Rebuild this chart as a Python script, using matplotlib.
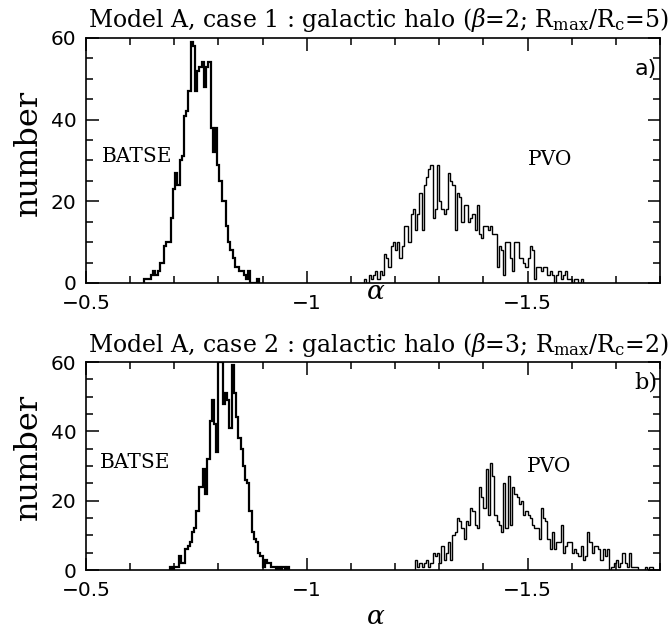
# alpha distributions for model A, two galactic halo cases
# step histograms, BATSE vs PVO

import matplotlib
matplotlib.use('Agg')
import matplotlib.pyplot as plt
import numpy as np
from matplotlib.ticker import MultipleLocator, FuncFormatter

# data =================================================================================================================
bin_width = 0.005

# case 1
case1_batse_start = -0.632
case1_batse = [1, 1, 1, 2, 3, 2, 3, 5, 5, 9, 10, 10, 16, 23, 27, 24, 30, 31, 41, 42, 47, 59, 58, 47, 52, 53,
               54, 48, 53, 54, 38, 32, 38, 29, 25, 20, 20, 14, 10, 8, 6, 4, 4, 3, 3, 2, 1, 3, 0, 0, 0, 1]
case1_pvo_start = -1.130
case1_pvo = [1, 0, 2, 1, 2, 3, 1, 3, 2, 7, 6, 4, 9, 10, 8, 10, 6, 9, 14, 14,
             10, 17, 18, 13, 17, 22, 13, 24, 26, 28, 29, 16, 18, 29, 20, 18, 17, 18, 27, 25,
             24, 13, 22, 21, 15, 19, 19, 15, 16, 17, 13, 19, 12, 11, 14, 14, 13, 14, 12, 12,
             4, 9, 8, 2, 10, 10, 6, 3, 10, 10, 6, 6, 5, 4, 6, 9, 8, 1, 4, 4,
             3, 4, 4, 2, 3, 2, 0, 2, 3, 1, 2, 3, 1, 1, 0, 1, 1, 0, 1, 0]

# case 2
case2_batse_start = -0.690
case2_batse = [1, 0, 1, 1, 4, 2, 2, 6, 7, 8, 11, 12, 17, 24, 24, 29, 22, 32, 43, 49,
               42, 34, 60, 62, 48, 51, 49, 41, 59, 51, 44, 38, 35, 30, 26, 25, 17, 11, 9, 8,
               5, 4, 1, 3, 2, 2, 1, 1, 0, 1, 0, 1, 0, 1]
case2_pvo_start = -1.245
case2_pvo = [3, 1, 2, 1, 2, 3, 1, 2, 5, 4, 5, 2, 7, 3, 5, 8, 3, 10, 11, 15,
             14, 12, 9, 14, 13, 18, 17, 13, 12, 24, 21, 18, 29, 16, 31, 27, 16, 14, 13, 11,
             25, 12, 27, 13, 24, 22, 21, 19, 20, 16, 17, 16, 15, 13, 12, 12, 9, 18, 15, 14,
             9, 6, 11, 6, 8, 8, 13, 5, 7, 8, 8, 5, 6, 5, 4, 7, 3, 4, 11, 8,
             5, 7, 7, 6, 3, 6, 4, 6, 0, 1, 2, 3, 1, 2, 5, 2, 1, 5, 1, 1,
             1, 0, 0, 0, 1, 0, 1, 1, 0]

titles = [r'Model A, case 1 : galactic halo ($\beta$=2; R$_{\rm max}$/R$_{\rm c}$=5)',
          r'Model A, case 2 : galactic halo ($\beta$=3; R$_{\rm max}$/R$_{\rm c}$=2)']
panel_tags = ['a)', 'b)']

plt.rcParams['mathtext.fontset'] = 'dejavuserif'
SERIF = 'DejaVu Serif'
SANS = 'DejaVu Sans'
W, H = 671, 629


def draw_hist(ax, start, counts, lw):
    counts = np.asarray(counts, dtype=float)
    edges = start - bin_width * np.arange(len(counts) + 1)
    ax.stairs(counts[::-1], edges[::-1], baseline=0, color='black', linewidth=lw)


def style_axes(ax):
    ax.set_xlim(-0.5, -1.8)
    ax.set_ylim(0, 60)
    ax.xaxis.set_major_locator(MultipleLocator(0.5))
    ax.xaxis.set_minor_locator(MultipleLocator(0.1))
    ax.yaxis.set_major_locator(MultipleLocator(20))
    ax.yaxis.set_minor_locator(MultipleLocator(5))
    ax.xaxis.set_major_formatter(FuncFormatter(lambda v, p: '{:g}'.format(v).replace('-', '\u2212')))
    ax.tick_params(which='both', direction='in', top=True, right=True, width=1.1, labelsize=14.5)
    ax.tick_params(which='major', length=9)
    ax.tick_params(which='minor', length=5)
    ax.tick_params(axis='x', pad=8)
    ax.tick_params(axis='y', pad=7)
    for lab in ax.get_xticklabels() + ax.get_yticklabels():
        lab.set_family(SANS)
    for sp in ax.spines.values():
        sp.set_linewidth(1.2)


def main():
    fig = plt.figure(figsize=(W / 100, H / 100), dpi=100)

    ax1 = fig.add_axes([86 / W, 1 - 283 / H, 574 / W, 245 / H])
    ax2 = fig.add_axes([86 / W, 1 - 570 / H, 574 / W, 208 / H])

    draw_hist(ax1, case1_batse_start, case1_batse, 1.6)
    draw_hist(ax1, case1_pvo_start, case1_pvo, 1.0)
    draw_hist(ax2, case2_batse_start, case2_batse, 1.6)
    draw_hist(ax2, case2_pvo_start, case2_pvo, 1.0)

    for ax in (ax1, ax2):
        style_axes(ax)

    # labels inside the panels
    ax1.text(0.028, 0.494, 'BATSE', transform=ax1.transAxes, family=SERIF, fontsize=14.5, va='baseline')
    ax1.text(0.770, 0.480, 'PVO', transform=ax1.transAxes, family=SERIF, fontsize=14.5, va='baseline')
    ax2.text(0.024, 0.490, 'BATSE', transform=ax2.transAxes, family=SERIF, fontsize=14.5, va='baseline')
    ax2.text(0.768, 0.470, 'PVO', transform=ax2.transAxes, family=SERIF, fontsize=14.5, va='baseline')
    ax1.text(0.995, 0.849, panel_tags[0], transform=ax1.transAxes, family=SANS, fontsize=16,
             ha='right', va='baseline')
    ax2.text(0.995, 0.875, panel_tags[1], transform=ax2.transAxes, family=SERIF, fontsize=16,
             ha='right', va='baseline')

    # titles, axis labels
    fig.text(88 / W, 1 - 27 / H, titles[0], family=SERIF, fontsize=17, ha='left', va='baseline')
    fig.text(88 / W, 1 - 352 / H, titles[1], family=SERIF, fontsize=17, ha='left', va='baseline')
    for yc in (153, 457):
        fig.text(28 / W, 1 - yc / H, 'number', family=SERIF, fontsize=23, rotation=90,
                 ha='center', va='center')
    for yb in (299, 624):
        fig.text(376 / W, 1 - yb / H, r'$\alpha$', fontsize=19, ha='center', va='baseline')

    fig.savefig('out.png', dpi=100)


if __name__ == "__main__":
    main()
